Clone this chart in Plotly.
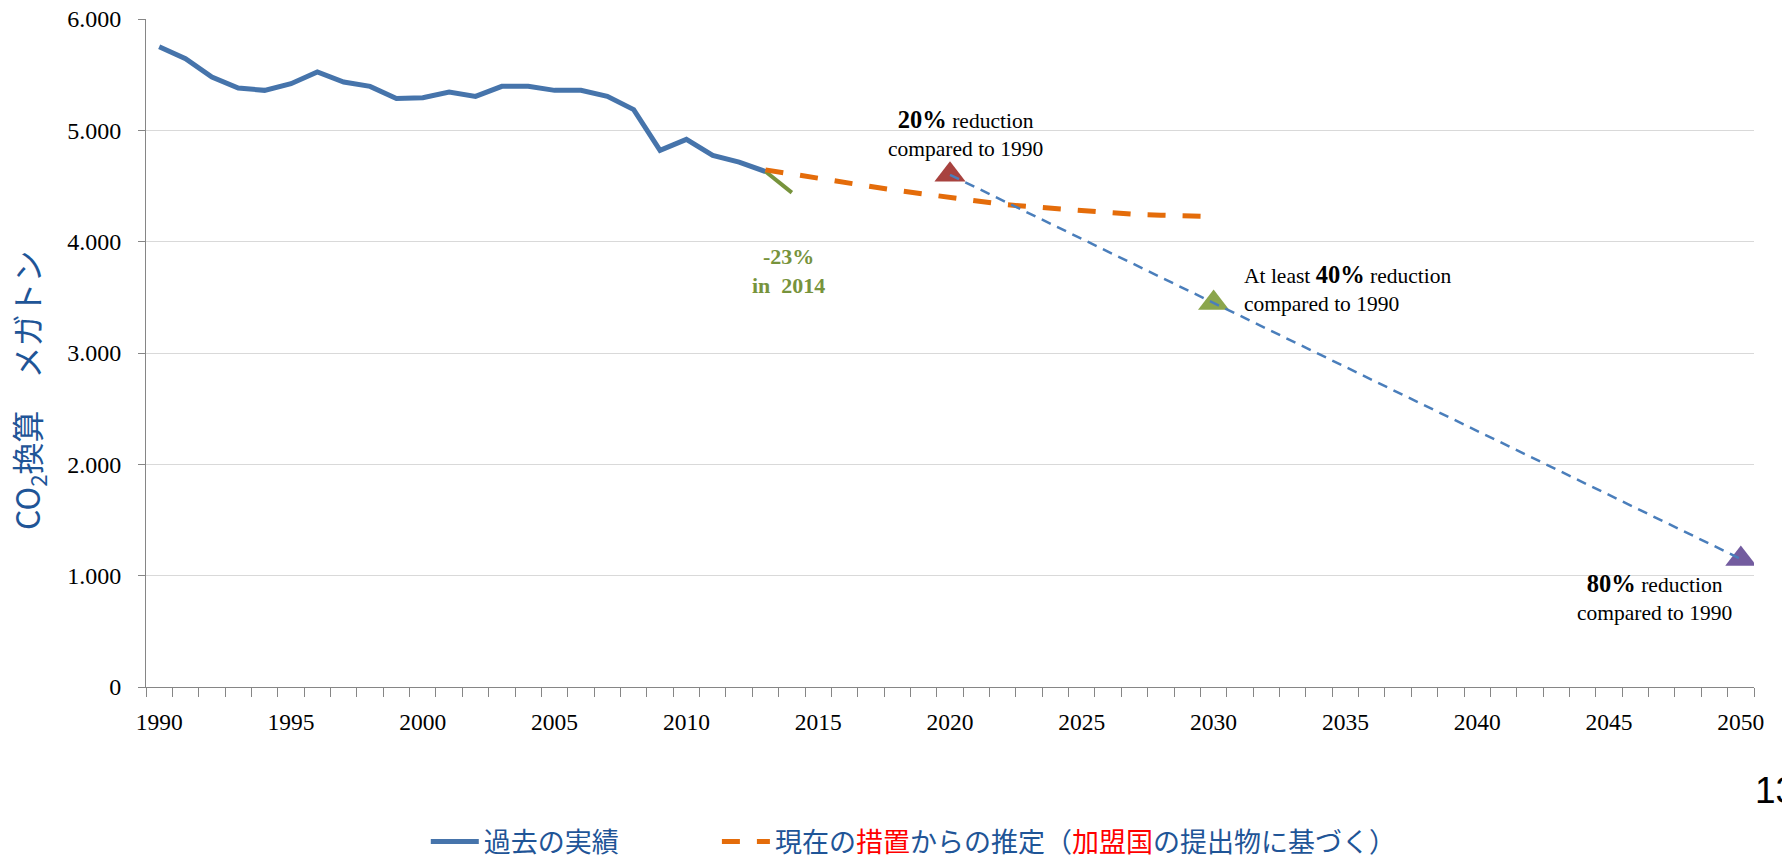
import plotly.graph_objects as go

# ---------------- data ----------------
hist_years = list(range(1990, 2014))
hist_values = [5750, 5644, 5479, 5380, 5359, 5419, 5524, 5434, 5395, 5285,
               5293, 5344, 5305, 5395, 5395, 5359, 5359, 5305, 5186, 4820,
               4919, 4775, 4715, 4630]

trend_years = [2013, 2014]
trend_values = [4630, 4440]

proj_years = list(range(2013, 2031))
proj_values = [4645, 4605, 4575, 4530, 4495, 4460, 4428, 4390, 4360, 4335,
               4315, 4295, 4275, 4255, 4245, 4238, 4231, 4225]

target_years = [2020, 2030, 2050]
target_values = [4600, 3450, 1150]
target_colors = ["#A8423F", "#8BA64C", "#735C9F"]

x_label_years = list(range(1990, 2051, 5))
x_boundaries = [y - 0.5 for y in range(1990, 2052)]
y_ticks = [0, 1000, 2000, 3000, 4000, 5000, 6000]

hist_name = "過去の実績" + "\u3000\u3000\u3000\u00a0\u00a0"
proj_name = ("現在の<span style='color:#FF0000'>措置</span>からの推定（"
             "<span style='color:#FF0000'>加盟国</span>の提出物に基づく）")
ytitle_text = "CO<sub>2</sub>換算　メガトン"

SERIF = "Liberation Serif, DejaVu Serif, serif"
CJK = "Noto Sans CJK JP, Noto Sans, sans-serif"
AXIS_GREY = "#868686"
TITLE_BLUE = "#1F5597"

fig = go.Figure()

fig.add_trace(go.Scatter(
    x=hist_years, y=hist_values, mode="lines", name=hist_name,
    line=dict(color="#4674AB", width=5), showlegend=True))

fig.add_trace(go.Scatter(
    x=trend_years, y=trend_values, mode="lines", name="trend",
    line=dict(color="#77933C", width=4), showlegend=False))

fig.add_trace(go.Scatter(
    x=proj_years, y=proj_values, mode="lines", name=proj_name,
    line=dict(color="#E46C0A", width=5, dash="18px,17px"), showlegend=True))

fig.add_trace(go.Scatter(
    x=target_years, y=target_values, mode="markers", name="targets",
    marker=dict(symbol="triangle-up", size=27, color=target_colors,
                line=dict(width=0)),
    showlegend=False))

fig.add_trace(go.Scatter(
    x=target_years, y=target_values, mode="lines", name="target path",
    line=dict(color="#4A7EBB", width=2.5, dash="10px,7px"), showlegend=False))

annotations = [
    dict(x=2020.57, y=4976, xref="x", yref="y",
         text="<b><span style='font-size:24.5px'>20%</span></b> reduction<br>compared to 1990",
         showarrow=False, xanchor="center", yanchor="middle", align="center",
         font=dict(family=SERIF, size=21.5, color="#000000")),
    dict(x=2031.08, y=3575, xref="x", yref="y",
         text="At least <b><span style='font-size:24.5px'>40%</span></b> reduction<br>compared to 1990",
         showarrow=False, xanchor="left", yanchor="middle", align="left",
         font=dict(family=SERIF, size=21.5, color="#000000")),
    dict(x=2046.71, y=804, xref="x", yref="y",
         text="<b><span style='font-size:24.5px'>80%</span></b> reduction<br>compared to 1990",
         showarrow=False, xanchor="center", yanchor="middle", align="center",
         font=dict(family=SERIF, size=21.5, color="#000000")),
    dict(x=2013.89, y=3741, xref="x", yref="y",
         text="<b>-23%<br>in\u00a0 2014</b>",
         showarrow=False, xanchor="center", yanchor="middle", align="center",
         font=dict(family=SERIF, size=22, color="#77933C")),
    dict(x=0, y=2668, xref="paper", yref="y", xshift=-118,
         text=ytitle_text, textangle=-90, showarrow=False,
         xanchor="center", yanchor="middle",
         font=dict(family=CJK, size=32, color=TITLE_BLUE)),
    dict(x=1, y=-0.155, xref="paper", yref="paper", xshift=-1,
         text="13", showarrow=False, xanchor="left", yanchor="middle",
         font=dict(family="Liberation Sans, Arial, sans-serif", size=37, color="#000000")),
]

fig.update_layout(
    width=1782, height=855,
    margin=dict(l=146, r=28, t=19, b=168, autoexpand=False),
    paper_bgcolor="white", plot_bgcolor="white",
    separators=",.",
    showlegend=True,
    legend=dict(orientation="h", x=0.174, xanchor="left", y=-0.232, yanchor="middle",
                font=dict(family=CJK, size=27, color=TITLE_BLUE),
                bgcolor="rgba(0,0,0,0)", itemwidth=48,
                tracegroupgap=0),
    annotations=annotations,
    xaxis=dict(range=[1989.5, 2050.5], tickmode="array", tickvals=x_label_years,
               ticks="", showline=True, linecolor=AXIS_GREY, linewidth=1,
               showgrid=False, zeroline=False, ticklabelstandoff=14,
               tickfont=dict(family=SERIF, size=23.5, color="#000000"),
               minor=dict(tickmode="array", tickvals=x_boundaries, ticks="outside",
                          ticklen=9, tickcolor=AXIS_GREY, tickwidth=1, showgrid=False)),
    yaxis=dict(range=[0, 6000], tickmode="array", tickvals=y_ticks,
               tickformat=",.0f", ticks="outside", ticklen=7, tickcolor=AXIS_GREY,
               showline=True, linecolor=AXIS_GREY, linewidth=1,
               showgrid=True, gridcolor="#D9D9D9", gridwidth=1, zeroline=False,
               ticklabelstandoff=12,
               tickfont=dict(family=SERIF, size=24, color="#000000")),
)

fig.write_html(
    "out.html",
    config={"displayModeBar": False},
    post_script="document.body.style.margin='0';"
                "document.body.style.overflow='hidden';"
                "document.documentElement.style.overflow='hidden';")
